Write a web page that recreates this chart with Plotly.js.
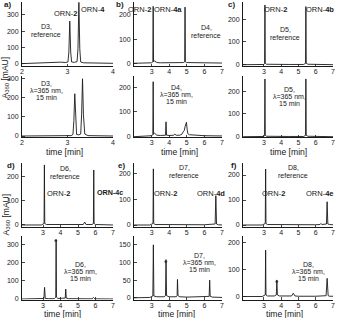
<!DOCTYPE html>
<html><head><meta charset="utf-8">
<script src="https://cdn.plot.ly/plotly-3.0.1.min.js"></script>
<style>html,body{margin:0;padding:0;background:#fff}#chart{width:337px;height:318px}</style>
</head><body><div id="chart"></div>
<script>
// ---- data (time [min], A360 [mAU]) ----
const aRefT = [2.0,2.2,2.4,2.55,2.65,2.75,2.85,2.95,3.01,3.03,3.05,3.07,3.09,3.15,3.21,3.23,3.25,3.27,3.29,3.35,3.6,4.0];
const aRefV = [-2,0,3,6,9,10,7,5,8,70,262,70,8,6,10,90,378,90,8,3,1,0];
const aIrrT = [2.0,2.5,2.9,3.08,3.12,3.14,3.16,3.18,3.2,3.25,3.29,3.31,3.33,3.35,3.38,3.45,3.7,4.0];
const aIrrV = [0,0,1,2,8,80,220,80,8,6,10,110,298,110,10,2,0,0];

const bRefT = [2.0,2.8,3.0,3.07,3.09,3.11,3.16,3.2,3.3,3.5,4.0,4.5,4.8,4.88,4.9,4.92,4.98,5.5,6.0,7.0];
const bRefV = [0,1,2,6,235,6,10,8,3,2,2,2,3,6,232,6,3,2,1,1];
const bIrrT = [2.0,2.8,3.0,3.07,3.09,3.11,3.17,3.22,3.3,3.5,3.79,3.82,3.85,4.0,4.25,4.32,4.4,4.6,4.72,4.8,4.86,4.9,4.94,4.98,5.02,5.06,5.15,5.5,6.0,7.0];
const bIrrV = [0,3,4,8,222,10,14,10,6,5,6,60,6,5,6,10,6,6,10,20,26,40,55,58,30,12,8,6,4,3];

const cRefT = [1.8,2.8,3.0,3.04,3.06,3.08,3.15,3.5,4.5,5.3,5.41,5.43,5.45,5.55,6.0,7.0];
const cRefV = [0,0,1,6,262,6,2,1,1,1,6,255,6,2,1,0];
const cIrrT = [1.8,2.8,3.0,3.04,3.06,3.08,3.15,3.5,4.5,5.3,5.41,5.43,5.45,5.55,6.0,7.0];
const cIrrV = [0,0,1,6,253,6,2,1,1,1,6,253,6,2,1,0];

const dRefT = [1.8,2.9,3.06,3.08,3.1,3.2,4.0,5.0,5.3,5.38,5.46,5.8,5.88,5.9,5.92,6.0,7.0];
const dRefV = [0,0,6,248,6,2,1,1,2,12,2,2,6,227,6,2,0];
const dIrrT = [1.8,2.9,3.05,3.09,3.13,3.3,3.65,3.73,3.75,3.77,3.85,4.2,4.27,4.3,4.33,4.45,5.0,5.8,5.88,5.96,7.0];
const dIrrV = [0,0,3,64,3,2,2,10,328,10,3,3,5,55,5,2,1,1,8,1,0];

const eRefT = [2.0,2.9,3.08,3.1,3.12,3.2,4.0,5.0,6.0,6.61,6.65,6.69,6.8,7.0];
const eRefV = [0,0,6,220,6,2,1,1,1,4,115,4,1,0];
const eIrrT = [2.0,2.9,3.07,3.1,3.13,3.3,3.7,3.79,3.82,3.85,4.0,4.4,4.45,4.47,4.5,4.6,5.0,6.0,6.27,6.3,6.33,6.45,7.0];
const eIrrV = [0,1,5,150,5,3,3,6,108,6,3,3,6,52,6,3,2,2,4,50,4,2,1];

const fRefT = [1.8,2.9,3.08,3.1,3.12,3.2,4.0,5.0,6.0,6.25,6.3,6.35,6.62,6.66,6.7,6.8,7.0];
const fRefV = [0,0,6,224,6,2,1,1,1,2,6,2,4,93,4,2,1];
const fIrrT = [1.8,2.9,3.08,3.1,3.12,3.2,3.6,3.72,3.75,3.78,3.9,4.6,4.7,4.8,5.0,6.0,6.6,6.66,6.72,6.8,7.0];
const fIrrV = [0,0,6,171,6,2,2,6,61,6,2,2,12,2,1,1,3,67,3,1,1];

// asterisk-marked peaks
const dStarT = [3.75], dStarV = [328];
const eStarT = [3.82], eStarV = [108];
const fStarT = [3.75], fStarV = [61];

const xTicksA = [2,3,4];
const xTicksB = [3,4,5,6,7];

// ---- layout geometry (pixels) ----
const W = 337, H = 318;
const fx = p => p / W, fy = p => 1 - p / H;
const FONT = 'Liberation Sans, Arial, sans-serif';
const INK = '#1a1a1a';

const panels = [
  // [T, V, colL, colR, rowTop, rowBot, xRange, yRange, xTicks, yTicks]
  [aRefT, aRefV, 22, 113, 2, 66, [2,4], [-16.8,380.7], xTicksA, [0,100,200,300]],
  [aIrrT, aIrrV, 22, 113, 76, 137, [2,4], [-5.2,312.5], xTicksA, [0,100,200,300]],
  [bRefT, bRefV, 134, 222, 2, 66, [2,7], [-11.2,253], xTicksB, [0,100,200]],
  [bIrrT, bIrrV, 134, 222, 76, 137, [2,7], [-1.2,245], xTicksB, [0,100,200]],
  [cRefT, cRefV, 243, 333, 2, 66, [1.79,7], [-5.7,275], xTicksB, [0,100,200]],
  [cIrrT, cIrrV, 243, 333, 76, 137, [1.79,7], [-1.3,266], xTicksB, [0,100,200]],
  [dRefT, dRefV, 22, 113, 163, 227, [1.8,7], [-8.3,256], xTicksB, [0,100,200]],
  [dIrrT, dIrrV, 22, 113, 236, 299.5, [1.8,7], [-2.7,347], xTicksB, [0,100,200,300]],
  [eRefT, eRefV, 134, 222, 163, 227, [2,7], [-7.8,243], xTicksB, [0,100,200]],
  [eIrrT, eIrrV, 134, 222, 236, 299.5, [2,7], [-4.8,175], xTicksB, [0,50,100,150]],
  [fRefT, fRefV, 243, 333, 163, 227, [1.79,7], [-8,248], xTicksB, [0,100,200]],
  [fIrrT, fIrrV, 243, 333, 236, 299.5, [1.79,7], [-11,223], xTicksB, [0,100,200]]
];

const traces = [];
const layout = {
  width: W, height: H, margin: {l:0, r:0, t:0, b:0},
  paper_bgcolor: '#fff', plot_bgcolor: 'rgba(0,0,0,0)',
  showlegend: false, font: {family: FONT, color: INK, size: 7},
  annotations: []
};

panels.forEach((p, i) => {
  const n = i + 1, sx = n === 1 ? '' : String(n);
  traces.push({x: p[0], y: p[1], xaxis: 'x' + sx, yaxis: 'y' + sx, mode: 'lines',
    line: {color: INK, width: 0.9}, hoverinfo: 'skip'});
  const common = {showline: true, linecolor: INK, linewidth: 1, ticks: 'inside', ticklen: 2.5,
    tickwidth: 0.8, tickcolor: INK, showgrid: false, zeroline: false, mirror: false,
    tickfont: {family: FONT, size: 7, color: INK}, fixedrange: true};
  layout['xaxis' + sx] = Object.assign({}, common, {domain: [fx(p[2]), fx(p[3])], range: p[6],
    anchor: 'y' + sx, tickmode: 'array', tickvals: p[8], ticklabelstandoff: -1});
  layout['yaxis' + sx] = Object.assign({}, common, {domain: [fy(p[5]), fy(p[4])], range: p[7],
    anchor: 'x' + sx, tickmode: 'array', tickvals: p[9], ticklabelstandoff: 1});
});

// asterisks placed on the marked peaks, in data coordinates
[[dStarT, dStarV, 8], [eStarT, eStarV, 10], [fStarT, fStarV, 12]].forEach(s => {
  layout.annotations.push({xref: 'x' + s[2], yref: 'y' + s[2], x: s[0][0], y: s[1][0],
    text: '*', showarrow: false, xanchor: 'center', yanchor: 'middle', yshift: -3,
    font: {family: FONT, size: 9, color: INK}});
});

function txt(x, y, text, size, extra) {
  layout.annotations.push(Object.assign({xref: 'paper', yref: 'paper', x: fx(x), y: fy(y),
    xanchor: 'center', yanchor: 'middle', text: text, showarrow: false,
    font: {family: FONT, size: size || 7, color: INK}}, extra || {}));
}
function block(x, y, lines, gap, size) {
  lines.forEach((l, k) => txt(x, y + k * gap, l, size));
}

// panel letters
[['a)', 7, 5], ['b)', 120, 5], ['c)', 231, 5], ['d)', 11, 165], ['e)', 121, 165], ['f)', 234, 165]]
  .forEach(t => txt(t[1], t[2], '<b>' + t[0] + '</b>', 8));

// axis titles
txt(5.5, 78, 'A<sub>360</sub> [mAU]', 8.5, {textangle: -90});
txt(5.5, 215, 'A<sub>360</sub> [mAU]', 8.5, {textangle: -90});
[[64,152],[179,152],[288,152],[62,313.6],[176,313.6],[284,313.6]].forEach(p => txt(p[0], p[1], 'time [min]', 8.6));

const irr = ['λ=365 nm,', '15 min'];
// row 1
txt(65, 14, 'ORN-<b>2</b>', 7.5); txt(93, 10, 'ORN-<b>4</b>', 7.5);
block(46, 26.5, ['D3,', 'reference'], 8);
block(46, 83.5, ['D3,'].concat(irr), 7.2);
txt(139, 10, 'ORN-<b>2</b>', 7.5); txt(168, 10, 'ORN-<b>4a</b>', 7.5);
block(206, 28, ['D4,', 'reference'], 8);
block(176, 87, ['D4,'].concat(irr), 7.2);
txt(275, 10, 'ORN-<b>2</b>', 7.5); txt(320, 10, 'ORN-<b>4b</b>', 7.5);
block(285, 30, ['D5,', 'reference'], 8);
block(289, 89, ['D5,'].concat(irr), 7.2);
// row 2
block(65, 168, ['D6,', 'reference'], 8);
txt(58, 193, 'ORN-<b>2</b>', 7.5); txt(109.5, 192.5, '<b>ORN-4c</b>', 7.2);
block(80, 264, ['D6,'].concat(irr), 7.2);
block(184, 167, ['D7,', 'reference'], 8);
txt(165, 193, 'ORN-<b>2</b>', 7.5); txt(211, 193, 'ORN-<b>4d</b>', 7.5);
block(199, 255, ['D7,'].concat(irr), 7.2);
block(293, 167, ['D8,', 'reference'], 8);
txt(273, 193, 'ORN-<b>2</b>', 7.5); txt(320, 193, 'ORN-<b>4e</b>', 7.5);
block(308, 264, ['D8,'].concat(irr), 7.2);

Plotly.newPlot('chart', traces, layout, {staticPlot: true, displayModeBar: false});
</script>
</body></html>
